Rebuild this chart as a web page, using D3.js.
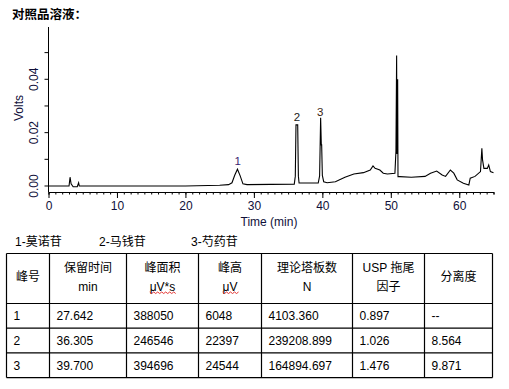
<!DOCTYPE html>
<html>
<head>
<meta charset="utf-8">
<script src="https://cdn.jsdelivr.net/npm/d3@7"></script>
<style>
  body { margin: 0; background: #fff; }
  svg { display: block; }
  text { font-family: "Liberation Sans", Arial, "Noto Sans CJK SC", sans-serif; }
</style>
</head>
<body>
<div id="plot"></div>
<script>
const svgWidth = 509;
const svgHeight = 389;

// chromatogram trace (min, volts)
const times = [0, 3.0, 3.15, 3.3, 3.6, 4.2, 4.4, 4.5, 10, 20, 25, 26.3, 26.8, 27.2, 27.6, 28.0, 28.4, 29,
    35.9, 36.05, 36.15, 36.4, 36.5, 36.6, 39.4, 39.6, 39.75, 39.85, 39.9, 40.0, 40.2, 40.7, 41.9, 43.3,
    44.6, 46.0, 47.0, 47.4, 47.7, 48.4, 48.9, 49.5, 50.6, 50.75, 50.85, 50.9, 51.0, 51.05, 51.3, 53.0,
    55.0, 55.8, 56.7, 57.5, 58.0, 58.7, 59.2, 59.7, 60.6, 61.4, 61.6, 62.3, 63.1, 63.3, 63.4, 63.6,
    64.1, 64.3, 64.55, 65.0];
const volts = [0, 0, 0.0033, 0.0008, -0.0003, -0.0003, 0.0012, 0, 0, 0, 0.0003, 0.0005, 0.0012, 0.004, 0.0063, 0.0038, 0.0008, 0.0005,
    0.0007, 0.0037, 0.0229, 0.0229, 0.0037, 0.0011, 0.0011, 0.0038, 0.0256, 0.0154, 0.0154, 0.004, 0.0016, 0.0012, 0.0016, 0.0033,
    0.0045, 0.005, 0.006, 0.0075, 0.0066, 0.006, 0.0048, 0.0045, 0.0048, 0.013, 0.0489, 0.012, 0.04, 0.0035, 0.0035, 0.0033,
    0.0036, 0.0048, 0.0056, 0.0041, 0.0036, 0.006, 0.0048, 0.0023, 0.001, 0.0004, 0.0029, 0.0036, 0.0054, 0.0141, 0.0098, 0.0066,
    0.0066, 0.0079, 0.0054, 0.005];

const xTicks = [0, 10, 20, 30, 40, 50, 60];
const yTicks = [0, 0.02, 0.04];

// peak table
const peakNames = ['1-莫诺苷', '2-马钱苷', '3-芍药苷'];
const headLine1 = ['峰号', '保留时间', '峰面积', '峰高', '理论塔板数', 'USP 拖尾', '分离度'];
const headLine2 = ['', 'min', 'μV*s', 'μV', 'N', '因子', ''];
const peakNo = ['1', '2', '3'];
const retTime = ['27.642', '36.305', '39.700'];
const area = ['388050', '246546', '394696'];
const height = ['6048', '22397', '24544'];
const plates = ['4103.360', '239208.899', '164894.697'];
const tailing = ['0.897', '1.026', '1.476'];
const resolution = ['--', '8.564', '9.871'];

// layout
const colEdges = [6.5, 49.5, 126.5, 198.5, 261.5, 352.5, 424.5, 492.5];
const tableTop = 253.5;
const headHeight = 50;
const rowHeight = 24.7;
const legendX = [15, 99, 191];

let xScale = d3.scaleLinear().domain([0, 65]).range([48.5, 493.5]);
let yScale = d3.scaleLinear().domain([-0.00225, 0.0596]).range([192, 27]);

const svg = d3.select('#plot')
    .append('svg')
    .attr('width', svgWidth)
    .attr('height', svgHeight);

// title
svg.append('text')
    .attr('x', 12)
    .attr('y', 19)
    .attr('font-size', 12.5)
    .attr('font-weight', 'bold')
    .attr('font-family', '"Noto Sans CJK SC", sans-serif')
    .text('对照品溶液：');

function drawAxes() {
    const axisColor = '#000';
    const labelColor = '#10103a';
    // y axis
    const yAxis = d3.axisLeft(yScale)
        .tickValues(d3.range(0, 0.051, 0.01))
        .tickSize(4)
        .tickFormat(d => yTicks.some(t => Math.abs(t - d) < 1e-9) ? d3.format('.2f')(d) : '');
    const gy = svg.append('g')
        .attr('transform', `translate(${xScale(0)},0)`)
        .call(yAxis);
    gy.select('.domain').attr('d', `M0,${yScale.range()[1]}V${yScale.range()[0]}`);
    gy.selectAll('text')
        .attr('font-size', 12)
        .attr('fill', labelColor)
        .attr('transform', function (d) { return `rotate(-90,-15,${yScale(d)})`; })
        .attr('x', -15)
        .attr('y', d => yScale(d))
        .attr('dy', '0.35em')
        .attr('text-anchor', 'middle');
    gy.selectAll('.tick').attr('transform', null);
    gy.selectAll('.tick line').attr('y1', d => yScale(d)).attr('y2', d => yScale(d));

    // x axis, minor ticks every minute
    const gx = svg.append('g')
        .attr('transform', `translate(0,${yScale.range()[0]})`);
    gx.append('g')
        .call(d3.axisBottom(xScale).tickValues(d3.range(0, 66, 1)).tickSize(2.5).tickFormat(''))
        .select('.domain').attr('stroke', axisColor);
    gx.append('g')
        .call(d3.axisBottom(xScale).tickValues(xTicks).tickSize(6).tickPadding(3))
        .call(g => g.select('.domain').remove())
        .selectAll('text')
        .attr('font-size', 12)
        .attr('fill', labelColor);

    svg.append('text')
        .attr('x', 269)
        .attr('y', 226)
        .attr('text-anchor', 'middle')
        .attr('font-size', 12)
        .attr('fill', labelColor)
        .text('Time (min)');
    svg.append('text')
        .attr('transform', 'translate(23,108) rotate(-90)')
        .attr('text-anchor', 'middle')
        .attr('font-size', 12)
        .attr('fill', labelColor)
        .text('Volts');
}

function drawTrace() {
    const line = d3.line()
        .x(d => xScale(d[0]))
        .y(d => yScale(d[1]));
    svg.append('path')
        .datum(d3.zip(times, volts))
        .attr('d', line)
        .attr('fill', 'none')
        .attr('stroke', '#000')
        .attr('stroke-width', 1.1);

    svg.append('g')
        .selectAll('text')
        .data(peakNo)
        .enter()
        .append('text')
        .attr('x', (d, i) => xScale(+retTime[i]))
        .attr('y', (d, i) => yScale(+height[i] / 1e6) - 5)
        .attr('text-anchor', 'middle')
        .attr('font-size', 11.5)
        .attr('fill', (d, i) => ['#3a2470', '#1a1a1a', '#3a2410'][i])
        .text(d => d);
}

function drawLegend() {
    svg.append('g')
        .selectAll('text')
        .data(peakNames)
        .enter()
        .append('text')
        .attr('x', (d, i) => legendX[i])
        .attr('y', 245.5)
        .attr('font-size', 12)
        .attr('font-family', '"Liberation Sans", "Noto Sans CJK SC", sans-serif')
        .text(d => d);
}

function wavy(g, x0, x1, y) {
    let d = `M${x0},${y}`;
    for (let x = x0, k = 0; x < x1; x += 2, k++) d += `L${x + 2},${y + (k % 2 ? 0 : 1.5)}`;
    g.append('path').attr('d', d).attr('fill', 'none').attr('stroke', '#e0201e').attr('stroke-width', 0.9);
}

function drawTable() {
    const g = svg.append('g');
    const rows = d3.zip(peakNo, retTime, area, height, plates, tailing, resolution);
    const bottom = tableTop + headHeight + rows.length * rowHeight;
    const mid = i => (colEdges[i] + colEdges[i + 1]) / 2;

    // grid
    g.selectAll('line.v')
        .data(colEdges)
        .enter()
        .append('line')
        .attr('x1', d => d).attr('x2', d => d)
        .attr('y1', tableTop).attr('y2', bottom)
        .attr('stroke', '#000').attr('stroke-width', 1.2);
    const hLines = [tableTop, tableTop + headHeight].concat(rows.map((r, i) => tableTop + headHeight + (i + 1) * rowHeight));
    g.selectAll('line.h')
        .data(hLines)
        .enter()
        .append('line')
        .attr('x1', colEdges[0]).attr('x2', colEdges[colEdges.length - 1])
        .attr('y1', d => d).attr('y2', d => d)
        .attr('stroke', '#000').attr('stroke-width', 1.2);

    // header
    headLine1.forEach((t, i) => {
        const two = headLine2[i] !== '';
        g.append('text')
            .attr('x', mid(i))
            .attr('y', two ? tableTop + 18 : tableTop + 27.5)
            .attr('text-anchor', 'middle')
            .attr('font-size', 12)
            .text(t);
        if (two) {
            const t2 = g.append('text')
                .attr('x', mid(i))
                .attr('y', tableTop + 37.5)
                .attr('text-anchor', 'middle')
                .attr('font-size', 12)
                .text(headLine2[i]);
            if (headLine2[i].startsWith('μ')) {
                const w = t2.node().getComputedTextLength();
                wavy(g, mid(i) - w / 2, mid(i) + w / 2, tableTop + 38.5);
            }
        }
    });

    // body
    rows.forEach((r, j) => {
        r.forEach((v, i) => {
            g.append('text')
                .attr('x', colEdges[i] + 7)
                .attr('y', tableTop + headHeight + j * rowHeight + rowHeight / 2 + 4.5)
                .attr('font-size', 12)
                .text(v);
        });
    });
}

drawAxes();
drawTrace();
drawLegend();
drawTable();
</script>
</body>
</html>
